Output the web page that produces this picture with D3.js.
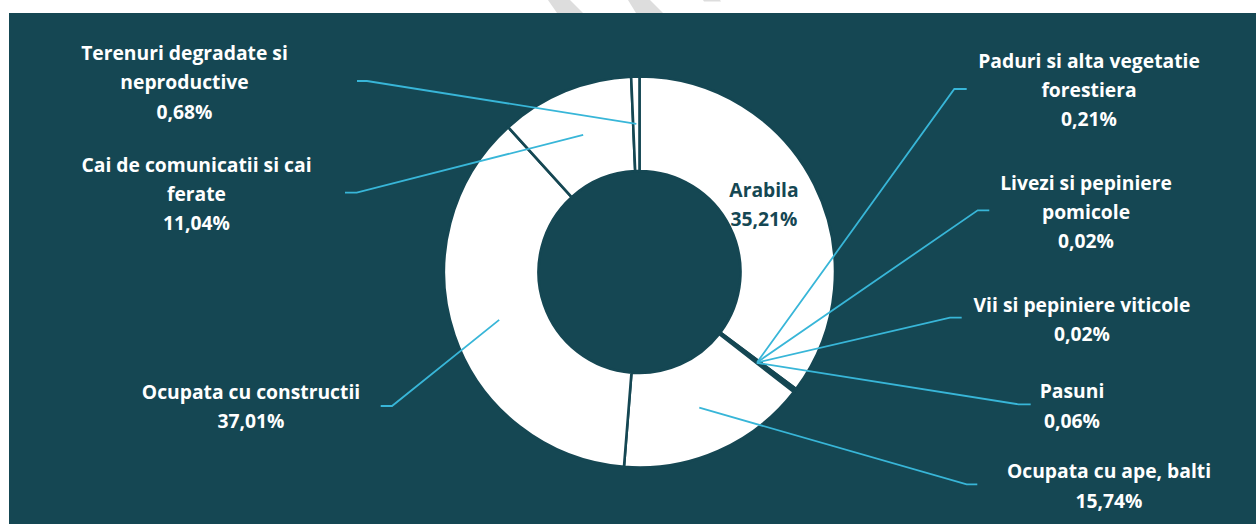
<!DOCTYPE html>
<html>
<head>
<meta charset="utf-8">
<script src="https://cdn.jsdelivr.net/npm/d3@7"></script>
<style>
  html, body { margin: 0; padding: 0; background: #ffffff; }
  svg { display: block; }
  text { font-family: "Open Sans", "Noto Sans", sans-serif; font-weight: 700; }
</style>
</head>
<body>
<svg id="chart" width="1256" height="524"></svg>
<script>
// ---- data ----
const categories = [
  "Arabila",
  "Paduri si alta vegetatie forestiera",
  "Livezi si pepiniere pomicole",
  "Vii si pepiniere viticole",
  "Pasuni",
  "Ocupata cu ape, balti",
  "Ocupata cu constructii",
  "Cai de comunicatii si cai ferate",
  "Terenuri degradate si neproductive"
];
const values = [35.21, 0.21, 0.02, 0.02, 0.06, 15.74, 37.01, 11.04, 0.68];
const labelLines = [
  ["Arabila"],
  ["Paduri si alta vegetatie", "forestiera"],
  ["Livezi si pepiniere", "pomicole"],
  ["Vii si pepiniere viticole"],
  ["Pasuni"],
  ["Ocupata cu ape, balti"],
  ["Ocupata cu constructii"],
  ["Cai de comunicatii si cai", "ferate"],
  ["Terenuri degradate si", "neproductive"]
];

// ---- layout (positions for labels, not data) ----
const labelLayout = [
  { cx: 764,   y: 197,   inside: true },
  { cx: 1089,  y: 67.5,  end: [966.7, 89],    knee: [954.3, 89] },
  { cx: 1086,  y: 189.5, end: [989.3, 210.3], knee: [977.7, 210.3] },
  { cx: 1082,  y: 311.7, end: [961.7, 317.7], knee: [950, 317.7] },
  { cx: 1072,  y: 398.3, end: [1030.7, 404.3], knee: [1018.3, 404.3] },
  { cx: 1109,  y: 478.3, end: [977.3, 484.3], knee: [966.7, 484.3] },
  { cx: 251,   y: 399,   end: [380.7, 406],   knee: [392, 406] },
  { cx: 196.5, y: 171.7, end: [345, 192.7],   knee: [356.7, 192.7] },
  { cx: 184.5, y: 60,    end: [357, 81],      knee: [367, 81] }
];

const W = 1256, H = 524;
const bg = "#154753";
const leader = "#38b6d8";
const cx = 639.5, cy = 272, rOuter = 195.5, rInner = 101;
const lineH = 29.3;

const fmt = v => d3.format(".2f")(v).replace(".", ",") + "%";

const svg = d3.select("#chart");

// watermark fragments in the white margin
const wm = [
  [[548,0],[570,0],[583,13],[557,13]],
  [[628,0],[650,0],[663,13],[636,13]],
  [[703,0],[720,0],[721,1.5],[704,1.5]]
];
svg.selectAll("polygon.wm").data(wm).enter().append("polygon")
  .attr("class", "wm")
  .attr("points", d => d.map(p => p.join(",")).join(" "))
  .attr("fill", "#dddddd");

svg.append("rect")
  .attr("x", 9).attr("y", 13)
  .attr("width", W - 9).attr("height", H - 13)
  .attr("fill", bg);

const data = categories.map((c, i) => ({ name: c, value: values[i], lines: labelLines[i], layout: labelLayout[i] }));

const pie = d3.pie().sort(null).value(d => d.value);
const arcs = pie(data);
const arc = d3.arc().innerRadius(rInner).outerRadius(rOuter);

const g = svg.append("g").attr("transform", `translate(${cx},${cy})`);

g.selectAll("path.slice").data(arcs).enter().append("path")
  .attr("class", "slice")
  .attr("d", arc)
  .attr("fill", "#ffffff")
  .attr("stroke", bg)
  .attr("stroke-width", 2.6)
  .attr("stroke-linejoin", "miter");

// leader lines
const lineGen = d3.line();
arcs.forEach(a => {
  const L = a.data.layout;
  if (L.inside) return;
  const c = arc.centroid(a);
  const p0 = [cx + c[0], cy + c[1]];
  svg.append("path")
    .attr("d", lineGen([p0, L.knee, L.end]))
    .attr("fill", "none")
    .attr("stroke", leader)
    .attr("stroke-width", 1.8);
});

// labels
arcs.forEach(a => {
  const L = a.data.layout;
  const lines = a.data.lines.concat([fmt(a.data.value)]);
  const t = svg.append("text")
    .attr("text-anchor", "middle")
    .attr("font-size", 19.3)
    .attr("fill", L.inside ? bg : "#ffffff");
  lines.forEach((s, k) => {
    t.append("tspan")
      .attr("x", L.cx)
      .attr("y", L.y + k * lineH)
      .text(s);
  });
});
</script>
</body>
</html>
